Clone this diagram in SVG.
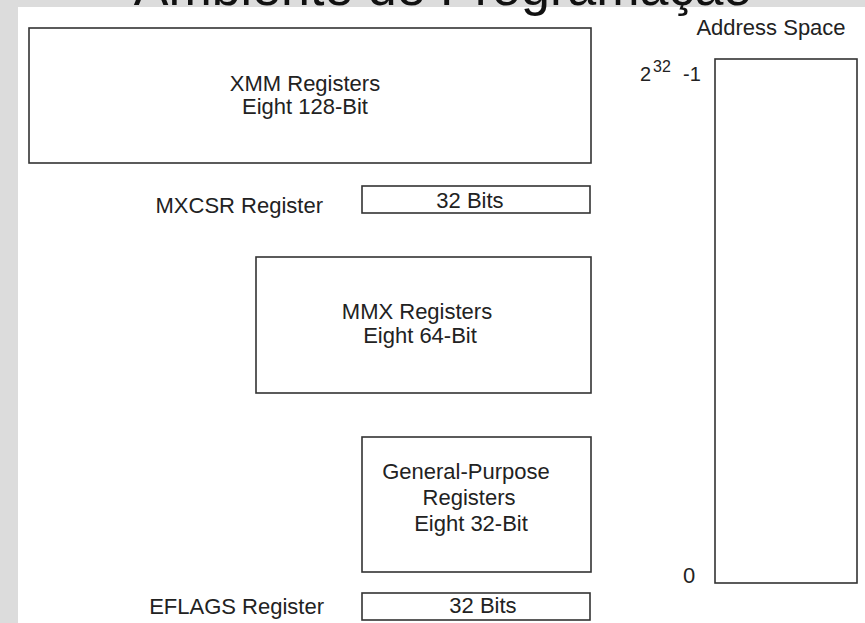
<svg xmlns="http://www.w3.org/2000/svg" width="865" height="623" viewBox="0 0 865 623">
<style>
.box{fill:#fff;stroke:#333;stroke-width:1.6}
.t{font-family:'Liberation Sans',Arial,sans-serif;font-size:22px;fill:#222}
.c{text-anchor:middle}
.e{text-anchor:end}
.title{font-family:'Liberation Sans',Arial,sans-serif;font-size:52px;fill:#111;text-anchor:middle}
</style>
<rect x="0" y="0" width="865" height="623" fill="#dcdcdc"/>
<rect x="18" y="7" width="847" height="616" fill="#fff"/>
<text class="title" x="443" y="5">Ambiente de Programação</text>
<g id="xmm">
<rect class="box" x="29" y="28" width="562" height="135"/>
<text class="t c" x="305" y="91">XMM Registers</text>
<text class="t c" x="305" y="114">Eight 128-Bit</text>
</g>
<g id="mxcsr">
<text class="t e" x="323" y="213">MXCSR Register</text>
<rect class="box" x="362" y="186" width="228" height="27"/>
<text class="t c" x="470" y="208">32 Bits</text>
</g>
<g id="mmx">
<rect class="box" x="256" y="257" width="335" height="136"/>
<text class="t c" x="417" y="319">MMX Registers</text>
<text class="t c" x="420" y="343">Eight 64-Bit</text>
</g>
<g id="gp">
<rect class="box" x="362" y="437" width="229" height="135"/>
<text class="t c" x="466" y="479">General-Purpose</text>
<text class="t c" x="469" y="505">Registers</text>
<text class="t c" x="471" y="531">Eight 32-Bit</text>
</g>
<g id="eflags">
<text class="t e" x="324" y="614">EFLAGS Register</text>
<rect class="box" x="362" y="593" width="228" height="27"/>
<text class="t c" x="483" y="613">32 Bits</text>
</g>
<g id="address">
<text class="t c" x="771" y="35">Address Space</text>
<rect class="box" x="715" y="59" width="142" height="524"/>
<text class="t" x="640" y="81" style="font-size:20px">2</text>
<text class="t" x="653" y="72" style="font-size:16px">32</text>
<text class="t" x="683" y="81" style="font-size:20px">-1</text>
<text class="t" x="683" y="583">0</text>
</g>
<g id="connectors"></g>
</svg>
